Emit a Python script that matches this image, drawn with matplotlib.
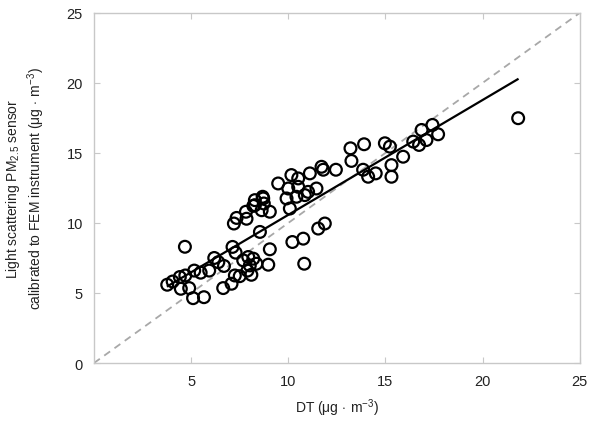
import matplotlib
matplotlib.use("Agg")
import matplotlib.pyplot as plt
import numpy as np

plt.rcParams['font.family'] = ['Liberation Sans', 'DejaVu Sans']
plt.rcParams['mathtext.fontset'] = 'custom'
plt.rcParams['mathtext.rm'] = 'Liberation Sans'
plt.rcParams['mathtext.it'] = 'Liberation Sans'

dt_x = [3.77, 4.05, 4.42, 4.70, 4.47, 4.90, 5.10, 5.66, 5.16, 5.49, 5.93, 6.19, 6.69, 4.68,
        6.65, 7.08, 7.25, 7.29, 7.68, 7.94, 8.20, 8.36, 8.02, 8.54, 9.05, 8.97, 7.13,
        7.20, 7.34, 7.85, 7.82, 8.20, 8.28, 8.68, 8.74, 8.63, 9.05, 9.48,
        21.83, 16.86, 17.42, 17.71, 17.11, 16.73, 16.43, 15.91, 15.31, 15.31, 14.97, 15.23,
        13.90, 13.20, 13.25, 13.85, 14.11, 14.50, 12.45, 11.80, 11.11, 11.71, 11.45, 11.02,
        10.51, 10.51, 10.16, 10.00, 10.42, 9.91, 10.08, 10.85, 8.71, 8.28,
        11.88, 11.54, 10.77, 10.21, 10.82, 7.50, 7.90, 8.10, 6.40]
pm_y = [5.59, 5.82, 6.14, 6.25, 5.30, 5.35, 4.63, 4.70, 6.60, 6.45, 6.60, 7.50, 6.93, 8.30,
        5.35, 5.66, 6.25, 7.88, 7.33, 7.57, 7.45, 7.09, 6.97, 9.36, 8.12, 7.02, 8.29,
        9.96, 10.36, 10.30, 10.80, 11.22, 11.63, 11.87, 11.39, 10.91, 10.80, 12.82,
        17.48, 16.64, 17.00, 16.33, 15.92, 15.57, 15.81, 14.73, 14.13, 13.30, 15.69, 15.45,
        15.62, 15.33, 14.43, 13.80, 13.30, 13.54, 13.80, 13.80, 13.54, 14.01, 12.46, 12.22,
        12.58, 13.18, 13.42, 12.46, 11.87, 11.75, 11.03, 11.99, 11.75, 11.27,
        9.96, 9.60, 8.88, 8.64, 7.09, 6.20, 6.60, 6.30, 7.20]

fit_slope = 0.82
fit_intercept = 2.38
fit_range = [3.8, 21.8]
one_to_one = [0, 25]

fig = plt.figure(figsize=(5.91, 4.27), dpi=100)
ax = fig.add_axes([0.159, 0.1475, 0.822, 0.820])

ax.plot(one_to_one, one_to_one, linestyle=(0, (4, 3)), color='#a8a8a8', linewidth=1.3, zorder=1)
ax.scatter(dt_x, pm_y, s=72, facecolors='none', edgecolors='black', linewidths=1.6, zorder=2)
fx = np.array(fit_range)
ax.plot(fx, fit_slope * fx + fit_intercept, color='black', linewidth=1.6, zorder=3)

ax.set_xlim(0, 25)
ax.set_ylim(0, 25)
ax.set_xticks([5, 10, 15, 20, 25])
ax.set_yticks([0, 5, 10, 15, 20, 25])
for s in ax.spines.values():
    s.set_color('#c8c8c8')
    s.set_linewidth(1.0)
ax.tick_params(direction='in', length=4, color='#c8c8c8', labelsize=10.5, labelcolor='#222222',
               top=True, right=True, pad=8)

ax.set_xlabel(r'DT (μg$\,\cdot\,$m$^{-3}$)', fontsize=10, color='#222222', labelpad=6)
ax.set_ylabel('Light scattering PM$_{2.5}$ sensor\ncalibrated to FEM instrument (μg$\\,\\cdot\\,$m$^{-3}$)',
              fontsize=10, color='#222222', labelpad=14)

fig.savefig('out.png', dpi=100)
